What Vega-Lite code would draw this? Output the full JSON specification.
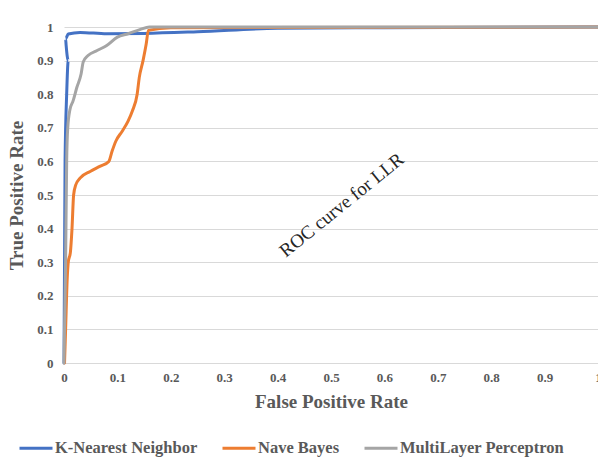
{
  "$schema": "https://vega.github.io/schema/vega-lite/v6.json",
  "width": 534,
  "height": 336,
  "autosize": {"type": "none"},
  "padding": {"left": 64, "top": 27, "right": 0, "bottom": 97},
  "background": "white",
  "config": {
    "view": {"stroke": null},
    "font": "Liberation Serif",
    "axis": {"labelFont": "Liberation Serif", "titleFont": "Liberation Serif"},
    "legend": {"labelFont": "Liberation Serif"}
  },
  "datasets": {
    "roc": [
      {"model": "K-Nearest Neighbor", "i": 0, "fpr": 0, "tpr": 0},
      {"model": "K-Nearest Neighbor", "i": 1, "fpr": 0.001, "tpr": 0.3},
      {"model": "K-Nearest Neighbor", "i": 2, "fpr": 0.002, "tpr": 0.6},
      {"model": "K-Nearest Neighbor", "i": 3, "fpr": 0.005, "tpr": 0.8},
      {"model": "K-Nearest Neighbor", "i": 4, "fpr": 0.008, "tpr": 0.9},
      {"model": "K-Nearest Neighbor", "i": 5, "fpr": 0.004, "tpr": 0.945},
      {"model": "K-Nearest Neighbor", "i": 6, "fpr": 0.003, "tpr": 0.965},
      {"model": "K-Nearest Neighbor", "i": 7, "fpr": 0.008, "tpr": 0.979},
      {"model": "K-Nearest Neighbor", "i": 8, "fpr": 0.03, "tpr": 0.984},
      {"model": "K-Nearest Neighbor", "i": 9, "fpr": 0.08, "tpr": 0.98},
      {"model": "K-Nearest Neighbor", "i": 10, "fpr": 0.15, "tpr": 0.981},
      {"model": "K-Nearest Neighbor", "i": 11, "fpr": 0.25, "tpr": 0.986},
      {"model": "K-Nearest Neighbor", "i": 12, "fpr": 0.4, "tpr": 0.996},
      {"model": "K-Nearest Neighbor", "i": 13, "fpr": 0.6, "tpr": 0.998},
      {"model": "K-Nearest Neighbor", "i": 14, "fpr": 1, "tpr": 1},
      {"model": "Nave Bayes", "i": 0, "fpr": 0.001, "tpr": 0},
      {"model": "Nave Bayes", "i": 1, "fpr": 0.003, "tpr": 0.1},
      {"model": "Nave Bayes", "i": 2, "fpr": 0.006, "tpr": 0.25},
      {"model": "Nave Bayes", "i": 3, "fpr": 0.008, "tpr": 0.3},
      {"model": "Nave Bayes", "i": 4, "fpr": 0.012, "tpr": 0.33},
      {"model": "Nave Bayes", "i": 5, "fpr": 0.015, "tpr": 0.4},
      {"model": "Nave Bayes", "i": 6, "fpr": 0.018, "tpr": 0.5},
      {"model": "Nave Bayes", "i": 7, "fpr": 0.022, "tpr": 0.53},
      {"model": "Nave Bayes", "i": 8, "fpr": 0.03, "tpr": 0.55},
      {"model": "Nave Bayes", "i": 9, "fpr": 0.049, "tpr": 0.57},
      {"model": "Nave Bayes", "i": 10, "fpr": 0.067, "tpr": 0.585},
      {"model": "Nave Bayes", "i": 11, "fpr": 0.084, "tpr": 0.6},
      {"model": "Nave Bayes", "i": 12, "fpr": 0.09, "tpr": 0.63},
      {"model": "Nave Bayes", "i": 13, "fpr": 0.097, "tpr": 0.66},
      {"model": "Nave Bayes", "i": 14, "fpr": 0.109, "tpr": 0.69},
      {"model": "Nave Bayes", "i": 15, "fpr": 0.12, "tpr": 0.72},
      {"model": "Nave Bayes", "i": 16, "fpr": 0.128, "tpr": 0.75},
      {"model": "Nave Bayes", "i": 17, "fpr": 0.137, "tpr": 0.8},
      {"model": "Nave Bayes", "i": 18, "fpr": 0.141, "tpr": 0.85},
      {"model": "Nave Bayes", "i": 19, "fpr": 0.148, "tpr": 0.9},
      {"model": "Nave Bayes", "i": 20, "fpr": 0.154, "tpr": 0.95},
      {"model": "Nave Bayes", "i": 21, "fpr": 0.158, "tpr": 0.99},
      {"model": "Nave Bayes", "i": 22, "fpr": 0.2, "tpr": 0.998},
      {"model": "Nave Bayes", "i": 23, "fpr": 1, "tpr": 1},
      {"model": "MultiLayer Perceptron", "i": 0, "fpr": 0, "tpr": 0},
      {"model": "MultiLayer Perceptron", "i": 1, "fpr": 0.003, "tpr": 0.3},
      {"model": "MultiLayer Perceptron", "i": 2, "fpr": 0.005, "tpr": 0.6},
      {"model": "MultiLayer Perceptron", "i": 3, "fpr": 0.007, "tpr": 0.7},
      {"model": "MultiLayer Perceptron", "i": 4, "fpr": 0.011, "tpr": 0.753},
      {"model": "MultiLayer Perceptron", "i": 5, "fpr": 0.017, "tpr": 0.78},
      {"model": "MultiLayer Perceptron", "i": 6, "fpr": 0.024, "tpr": 0.82},
      {"model": "MultiLayer Perceptron", "i": 7, "fpr": 0.032, "tpr": 0.86},
      {"model": "MultiLayer Perceptron", "i": 8, "fpr": 0.036, "tpr": 0.896},
      {"model": "MultiLayer Perceptron", "i": 9, "fpr": 0.045, "tpr": 0.915},
      {"model": "MultiLayer Perceptron", "i": 10, "fpr": 0.062, "tpr": 0.93},
      {"model": "MultiLayer Perceptron", "i": 11, "fpr": 0.08, "tpr": 0.945},
      {"model": "MultiLayer Perceptron", "i": 12, "fpr": 0.1, "tpr": 0.97},
      {"model": "MultiLayer Perceptron", "i": 13, "fpr": 0.12, "tpr": 0.98},
      {"model": "MultiLayer Perceptron", "i": 14, "fpr": 0.142, "tpr": 0.992},
      {"model": "MultiLayer Perceptron", "i": 15, "fpr": 0.16, "tpr": 1.0},
      {"model": "MultiLayer Perceptron", "i": 16, "fpr": 1, "tpr": 1}
    ],
    "note": [{"fpr": 0.52, "tpr": 0.47, "label": "ROC curve for LLR"}]
  },
  "encoding": {
    "x": {
      "field": "fpr", "type": "quantitative",
      "scale": {"domain": [0, 1], "nice": false},
      "axis": {
        "title": "False Positive Rate",
        "values": [0, 0.1, 0.2, 0.3, 0.4, 0.5, 0.6, 0.7, 0.8, 0.9, 1],
        "format": "~g",
        "grid": false, "ticks": false,
        "domainColor": "#d9d9d9", "domainWidth": 1,
        "labelFont": "Liberation Serif", "labelFontWeight": "bold", "labelFontSize": 13, "labelColor": "#595959",
        "labelPadding": 8, "labelFlush": false, "labelOverlap": false,
        "titleFont": "Liberation Serif", "titleFontWeight": "bold", "titleFontSize": 19, "titleColor": "#595959",
        "titlePadding": 8
      }
    },
    "y": {
      "field": "tpr", "type": "quantitative",
      "scale": {"domain": [0, 1], "nice": false},
      "axis": {
        "title": "True Positive Rate",
        "values": [0, 0.1, 0.2, 0.3, 0.4, 0.5, 0.6, 0.7, 0.8, 0.9, 1],
        "format": "~g",
        "grid": true, "gridColor": "#d9d9d9", "gridWidth": 1,
        "ticks": false, "domain": false,
        "labelFont": "Liberation Serif", "labelFontWeight": "bold", "labelFontSize": 13, "labelColor": "#595959",
        "labelPadding": 11, "labelFlush": false, "labelOverlap": false,
        "titleFont": "Liberation Serif", "titleFontWeight": "bold", "titleFontSize": 19, "titleColor": "#595959",
        "titlePadding": 10
      }
    }
  },
  "layer": [
    {
      "data": {"name": "roc"},
      "mark": {"type": "line", "strokeWidth": 3, "interpolate": "monotone", "strokeCap": "round"},
      "encoding": {
        "order": {"field": "i", "type": "quantitative"},
        "color": {
          "field": "model", "type": "nominal",
          "scale": {
            "domain": ["K-Nearest Neighbor", "Nave Bayes", "MultiLayer Perceptron"],
            "range": ["#4472C4", "#ED7D31", "#A5A5A5"]
          },
          "legend": {
            "title": null, "orient": "none", "direction": "horizontal",
            "legendX": -46, "legendY": 403,
            "symbolType": "stroke", "symbolStrokeWidth": 3, "symbolSize": 1089,
            "labelFont": "Liberation Serif", "labelFontWeight": "bold", "labelFontSize": 16.5, "labelColor": "#595959",
            "labelOffset": 1, "columnPadding": 18, "labelLimit": 300
          }
        }
      }
    },
    {
      "data": {"name": "note"},
      "mark": {"type": "text", "angle": 321, "font": "Liberation Serif", "fontSize": 19, "color": "#262626"},
      "encoding": {
        "text": {"field": "label", "type": "nominal"}
      }
    }
  ]
}
